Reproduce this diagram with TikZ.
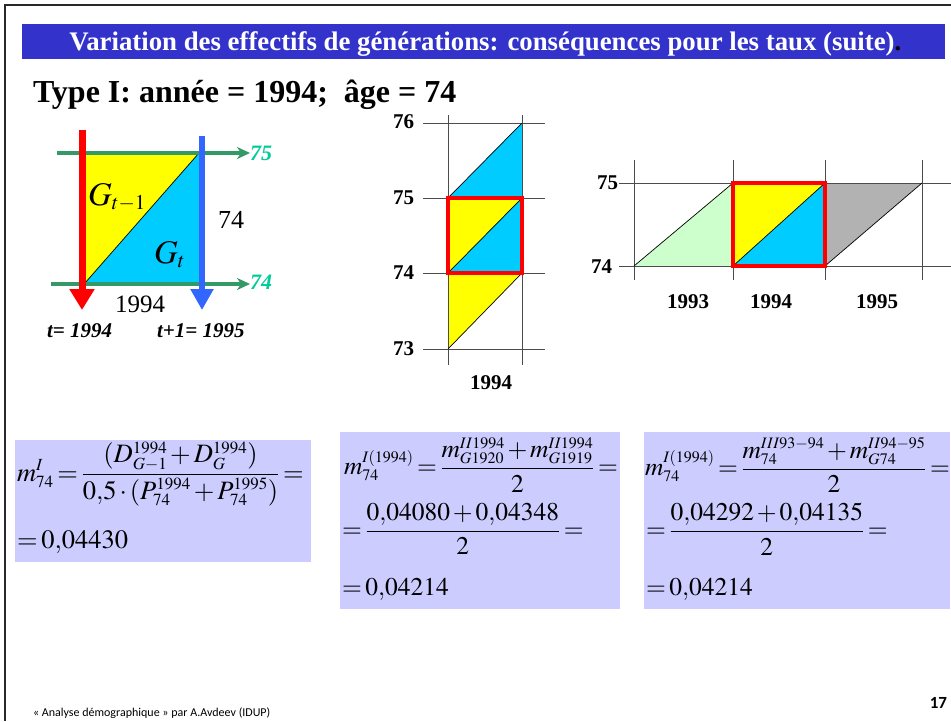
\documentclass[tikz,border=0pt]{standalone}
\usepackage{fix-cm}
\usepackage{amsmath}
\usepackage{mathptmx}
\usepackage{fontspec}
\setmainfont{Liberation Serif}
\newfontfamily\footfont{Carlito}
\usetikzlibrary{arrows.meta}
\DeclareMathSizes{25.5}{25.5}{16}{11}
\DeclareMathSizes{26.5}{26.5}{17}{12}
\DeclareMathSizes{33}{33}{21}{15}
\definecolor{titleblue}{RGB}{51,51,204}
\definecolor{lav}{RGB}{204,204,255}
\definecolor{cyanG}{RGB}{0,204,255}
\definecolor{yel}{RGB}{255,255,0}
\definecolor{grn}{RGB}{51,153,102}
\definecolor{tealtxt}{RGB}{0,204,153}
\definecolor{blu}{RGB}{51,102,255}
\definecolor{lgreen}{RGB}{204,255,204}
\definecolor{gry}{RGB}{178,178,178}
\definecolor{frame}{RGB}{40,40,40}
\newcommand{\fm}[1]{$\thickmuskip=2.5mu\medmuskip=2mu\displaystyle #1$}
\newcommand{\rng}{{-}}
\tikzset{
  txt/.style={inner sep=0pt, outer sep=0pt},
  axlbl/.style={txt, font=\fontsize{21}{24}\selectfont\bfseries},
  gridline/.style={line width=1pt, black!70},
  diag/.style={line width=0.7pt, black},
  redbox/.style={draw=red, line width=3.5pt},
  fbox/.style={fill=lav, draw=none},
  formula/.style={txt, anchor=west, font=\fontsize{25.5}{30}\selectfont},
  formulabig/.style={txt, anchor=west, font=\fontsize{26.5}{31}\selectfont},
  greenarrow/.style={draw=grn, line width=3.5pt, -{Stealth[length=13pt,width=12pt,inset=4pt]}},
}
\begin{document}
\begin{tikzpicture}[x=1pt,y=-1pt]
\useasboundingbox (0,0) rectangle (951,721);
\fill[white] (0,0) rectangle (951,721);
% frame
\draw[frame, line width=2.5pt] (5,721) -- (5,5) -- (951,5);
% title bar
\fill[titleblue] (22,24) rectangle (945,59);
\node[txt, anchor=base, text=white, font=\fontsize{26.8}{30}\selectfont\bfseries] (title) at (482,50)
  {Variation des effectifs de générations: conséquences pour les taux (suite)};
\node[txt, anchor=base west, font=\fontsize{26.8}{30}\selectfont\bfseries] (dot) at (title.base east) {.};
\node[txt, anchor=base west, font=\fontsize{32}{36}\selectfont\bfseries] (type) at (33,102)
  {Type I: année = 1994;\ \ âge = 74};

% ---------- left diagram ----------
\fill[yel] (85,153) -- (199,153) -- (85,283) -- cycle;
\fill[cyanG] (85,283) -- (199,153) -- (199,283) -- cycle;
\draw[diag] (85,283) -- (199,153);
\coordinate (g1s) at (57,153); \coordinate (g1e) at (250,153);
\coordinate (g2s) at (51,284); \coordinate (g2e) at (250,284);
\draw[greenarrow] (g1s) -- (g1e);
\draw[greenarrow] (g2s) -- (g2e);
\coordinate (rs) at (82,130); \coordinate (re) at (82,310);
\coordinate (bs) at (202,136); \coordinate (be) at (202,310);
\draw[red, line width=7pt, -{Triangle[length=21pt,width=24pt]}] (rs) -- (re);
\draw[blu, line width=6.5pt, -{Triangle[length=21pt,width=22pt]}] (bs) -- (be);
\node[txt, anchor=base west, text=tealtxt, font=\fontsize{22}{24}\selectfont\bfseries\itshape] (l75) at (250,160) {75};
\node[txt, anchor=base west, text=tealtxt, font=\fontsize{22}{24}\selectfont\bfseries\itshape] (l74) at (250,289) {74};
\node[txt, anchor=base west, font=\fontsize{33}{38}\selectfont] (gt1) at (88,205) {$G_{t-1}$};
\node[txt, anchor=base west, font=\fontsize{33}{38}\selectfont] (gt) at (154,263) {$G_{t}$};
\node[txt, anchor=base west, font=\fontsize{26}{30}\selectfont] (a74) at (218,228) {74};
\node[txt, anchor=base, font=\fontsize{25}{30}\selectfont] (y94) at (140,312) {1994};
\node[txt, anchor=base west, font=\fontsize{21}{24}\selectfont\bfseries\itshape] (t0) at (47,337) {t= 1994};
\node[txt, anchor=base west, font=\fontsize{21}{24}\selectfont\bfseries\itshape] (t1) at (157,337) {t+1= 1995};

% ---------- middle diagram ----------
\fill[cyanG] (448,198) -- (522,123) -- (522,198) -- cycle;
\fill[yel] (448,198) -- (522,198) -- (448,273) -- cycle;
\fill[cyanG] (448,273) -- (522,198) -- (522,273) -- cycle;
\fill[yel] (448,273) -- (522,273) -- (448,349) -- cycle;
\foreach \yy in {123,198,273,349} \draw[gridline] (423,\yy) -- (545,\yy);
\foreach \xx in {448,522} \draw[gridline] (\xx,115) -- (\xx,365);
\draw[diag] (448,198) -- (522,123);
\draw[diag] (448,273) -- (522,198);
\draw[diag] (448,349) -- (522,273);
\draw[redbox] (448,198) rectangle (522,273);
\node[axlbl, anchor=base east] (m76) at (414,128) {76};
\node[axlbl, anchor=base east] (m75) at (414,204) {75};
\node[axlbl, anchor=base east] (m74) at (414,279) {74};
\node[axlbl, anchor=base east] (m73) at (414,355) {73};
\node[axlbl, anchor=base] (m94) at (491,389) {1994};

% ---------- right diagram ----------
\fill[lgreen] (634,266) -- (733,183) -- (733,266) -- cycle;
\fill[yel] (733,183) -- (825,183) -- (733,266) -- cycle;
\fill[cyanG] (733,266) -- (825,183) -- (825,266) -- cycle;
\fill[gry] (825,266) -- (825,183) -- (922,183) -- cycle;
\foreach \yy in {183,266} \draw[gridline] (619,\yy) -- (951,\yy);
\foreach \xx in {634,733,825,922} \draw[gridline] (\xx,160) -- (\xx,280);
\draw[diag] (634,266) -- (733,183);
\draw[diag] (733,266) -- (825,183);
\draw[diag] (825,266) -- (922,183);
\draw[redbox] (733,183) rectangle (825,266);
\node[axlbl, anchor=base east] (r75) at (618,189) {75};
\node[axlbl, anchor=base east] (r74) at (612,273) {74};
\node[axlbl, anchor=base] (r93) at (688,308) {1993};
\node[axlbl, anchor=base] (r94) at (771,308) {1994};
\node[axlbl, anchor=base] (r95) at (877,308) {1995};

% ---------- formula boxes ----------
\fill[fbox] (15,440) rectangle (311,562);
\fill[fbox] (340,432) rectangle (620,609);
\fill[fbox] (644,432) rectangle (950,609);

\node[formulabig] (f1a) at (17,474)
  {\fm{m^{I}_{74}=\dfrac{(D^{1994}_{G-1}+D^{1994}_{G})}{0{,}5\cdot(P^{1994}_{74}+P^{1995}_{74})}=}};
\node[formulabig] (f1b) at (17,542) {\fm{=0{,}04430}};

\node[formula] (f2a) at (344,465)
  {\fm{m^{I(1994)}_{74}=\dfrac{m^{II1994}_{G1920}+m^{II1994}_{G1919}}{2}=}};
\node[formula] (f2b) at (342,529) {\fm{=\dfrac{0{,}04080+0{,}04348}{2}=}};
\node[formula] (f2c) at (342,589) {\fm{=0{,}04214}};

\node[formula] (f3a) at (645,465)
  {\fm{m^{I(1994)}_{74}=\dfrac{m^{III93\rng 94}_{74}+m^{II94\rng 95}_{G74}}{2}=}};
\node[formula] (f3b) at (646,529) {\fm{=\dfrac{0{,}04292+0{,}04135}{2}=}};
\node[formula] (f3c) at (646,589) {\fm{=0{,}04214}};

% footer
\node[txt, anchor=base west, font=\footfont\fontsize{12}{14}\selectfont] (foot) at (33,716)
  {« Analyse démographique » par A.Avdeev (IDUP)};
\node[txt, anchor=base east, font=\footfont\fontsize{17}{19}\selectfont\bfseries] (pg) at (947,708) {17};
\end{tikzpicture}
\end{document}
